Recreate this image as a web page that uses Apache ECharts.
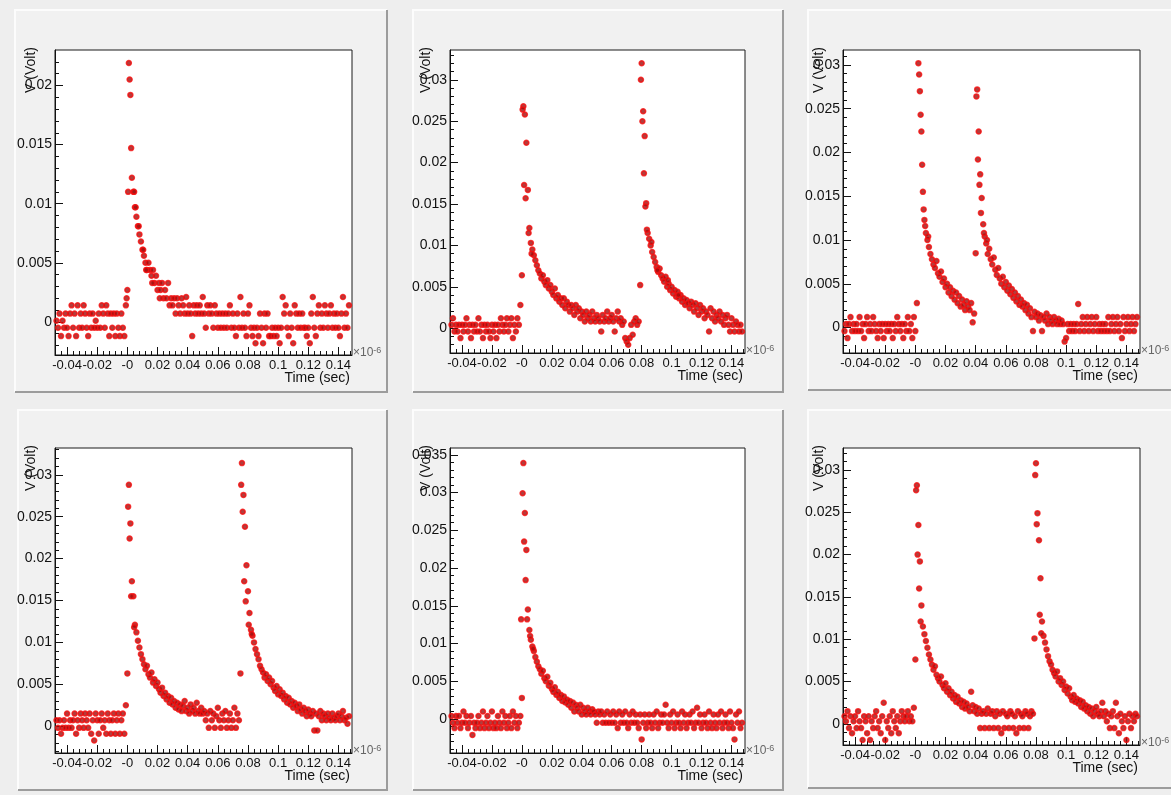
<!DOCTYPE html>
<html>
<head>
<meta charset="utf-8">
<title>Pulse waveforms</title>
<script src="https://cdn.jsdelivr.net/npm/echarts@6.0.0/dist/echarts.min.js"></script>
<style>
  html, body { margin: 0; padding: 0; background: #eeeeee; }
  #chart { width: 1171px; height: 795px; }
</style>
</head>
<body>
<div id="chart"></div>
<script>
// sample times in units of 10^-6 s, shared by the six traces (1 ns apart)
var timeUs = [
  -0.047,-0.046,-0.045,-0.044,-0.043,-0.042,-0.041,-0.040,-0.039,-0.038,
  -0.037,-0.036,-0.035,-0.034,-0.033,-0.032,-0.031,-0.030,-0.029,-0.028,
  -0.027,-0.026,-0.025,-0.024,-0.023,-0.022,-0.021,-0.020,-0.019,-0.018,
  -0.017,-0.016,-0.015,-0.014,-0.013,-0.012,-0.011,-0.010,-0.009,-0.008,
  -0.007,-0.006,-0.005,-0.004,-0.003,-0.002,-0.001,0.000,0.001,0.002,
  0.003,0.004,0.005,0.006,0.007,0.008,0.009,0.010,0.011,0.012,
  0.013,0.014,0.015,0.016,0.017,0.018,0.019,0.020,0.021,0.022,
  0.023,0.024,0.025,0.026,0.027,0.028,0.029,0.030,0.031,0.032,
  0.033,0.034,0.035,0.036,0.037,0.038,0.039,0.040,0.041,0.042,
  0.043,0.044,0.045,0.046,0.047,0.048,0.049,0.050,0.051,0.052,
  0.053,0.054,0.055,0.056,0.057,0.058,0.059,0.060,0.061,0.062,
  0.063,0.064,0.065,0.066,0.067,0.068,0.069,0.070,0.071,0.072,
  0.073,0.074,0.075,0.076,0.077,0.078,0.079,0.080,0.081,0.082,
  0.083,0.084,0.085,0.086,0.087,0.088,0.089,0.090,0.091,0.092,
  0.093,0.094,0.095,0.096,0.097,0.098,0.099,0.100,0.101,0.102,
  0.103,0.104,0.105,0.106,0.107,0.108,0.109,0.110,0.111,0.112,
  0.113,0.114,0.115,0.116,0.117,0.118,0.119,0.120,0.121,0.122,
  0.123,0.124,0.125,0.126,0.127,0.128,0.129,0.130,0.131,0.132,
  0.133,0.134,0.135,0.136,0.137,0.138,0.139,0.140,0.141,0.142,
  0.143,0.144,0.145,0.146,0.147
];

// voltages (V), one per sample time
var voltP1 = [
  0.0001,-0.0005,0.0007,-0.0012,0.0001,-0.0005,0.0007,-0.0005,-0.0012,0.0007,
  0.0014,-0.0005,0.0007,-0.0012,0.0014,-0.0005,0.0007,-0.0005,0.0014,0.0007,
  -0.0005,-0.0012,0.0007,-0.0005,0.0007,-0.0005,0.0001,-0.0005,0.0007,-0.0005,
  0.0014,0.0007,-0.0005,0.0014,0.0007,-0.0012,0.0007,-0.0005,0.0007,-0.0012,
  0.0007,-0.0005,-0.0012,0.0007,-0.0005,-0.0012,0.0014,0.0027,0.0219,0.0192,
  0.0122,0.0110,0.0097,0.0089,0.0081,0.0074,0.0068,0.0061,0.0056,0.0050,
  0.0044,0.0050,0.0044,0.0039,0.0044,0.0033,0.0039,0.0027,0.0033,0.0027,
  0.0033,0.0020,0.0027,0.0020,0.0033,0.0014,0.0020,0.0014,0.0020,0.0007,
  0.0020,0.0014,0.0007,0.0020,0.0014,0.0007,0.0021,0.0007,0.0014,0.0007,
  -0.0012,0.0014,0.0007,0.0014,0.0007,0.0014,0.0007,0.0021,0.0007,-0.0005,
  0.0014,0.0007,0.0014,0.0007,-0.0005,0.0014,0.0007,-0.0005,0.0007,-0.0005,
  0.0007,-0.0005,0.0007,-0.0005,0.0007,0.0014,-0.0005,0.0007,-0.0005,-0.0012,
  0.0007,-0.0005,0.0021,-0.0005,0.0007,-0.0005,-0.0012,0.0007,0.0014,-0.0005,
  -0.0012,-0.0005,-0.0018,-0.0005,-0.0012,0.0007,-0.0005,-0.0018,0.0007,-0.0005,
  0.0007,-0.0012,-0.0012,-0.0005,-0.0012,-0.0005,-0.0012,-0.0005,-0.0018,-0.0005,
  0.0021,0.0007,0.0014,-0.0005,-0.0012,0.0007,-0.0005,-0.0018,0.0014,0.0007,
  -0.0005,0.0007,-0.0005,0.0007,-0.0005,-0.0005,-0.0012,-0.0005,-0.0018,0.0007,
  0.0021,-0.0005,-0.0012,0.0007,0.0014,-0.0005,0.0007,-0.0005,0.0014,0.0007,
  -0.0005,0.0007,0.0014,-0.0005,0.0007,-0.0005,0.0007,-0.0005,-0.0012,0.0007,
  0.0021,-0.0005,0.0007,-0.0005,0.0014
];
var voltP2 = [
  0.0004,0.0012,-0.0004,0.0004,-0.0004,0.0004,-0.0012,0.0004,-0.0004,0.0004,
  0.0012,-0.0004,0.0004,-0.0012,0.0004,-0.0004,0.0004,-0.0004,0.0012,-0.0004,
  0.0004,-0.0012,0.0004,-0.0004,0.0004,-0.0004,-0.0012,0.0004,-0.0004,0.0004,
  -0.0012,0.0004,-0.0004,0.0012,0.0004,-0.0004,0.0004,0.0012,-0.0004,0.0004,
  0.0012,-0.0012,0.0004,-0.0004,0.0012,0.0004,0.0028,0.0064,0.0268,0.0258,
  0.0224,0.0167,0.0121,0.0103,0.0095,0.0088,0.0082,0.0076,0.0070,0.0066,
  0.0060,0.0064,0.0056,0.0052,0.0058,0.0048,0.0052,0.0044,0.0040,0.0048,
  0.0036,0.0040,0.0032,0.0036,0.0028,0.0036,0.0024,0.0032,0.0028,0.0020,
  0.0028,0.0024,0.0016,0.0028,0.0020,0.0024,0.0012,0.0020,0.0016,0.0008,
  0.0020,0.0012,0.0016,0.0008,0.0020,0.0012,0.0008,0.0016,0.0012,0.0008,
  -0.0004,0.0016,0.0008,0.0012,0.0020,0.0008,0.0012,0.0016,0.0008,-0.0004,
  0.0012,0.0020,0.0008,0.0012,0.0004,0.0008,-0.0012,-0.0016,-0.0020,-0.0012,
  0.0004,-0.0008,0.0008,0.0012,0.0004,0.0008,0.0052,0.0320,0.0262,0.0232,
  0.0151,0.0115,0.0108,0.0100,0.0092,0.0086,0.0080,0.0074,0.0068,0.0072,
  0.0064,0.0060,0.0056,0.0062,0.0050,0.0054,0.0046,0.0050,0.0042,0.0046,
  0.0038,0.0044,0.0036,0.0040,0.0032,0.0036,0.0028,0.0034,0.0030,0.0024,
  0.0032,0.0028,0.0020,0.0030,0.0024,0.0016,0.0028,0.0020,0.0024,0.0012,
  0.0020,0.0016,-0.0004,0.0024,0.0012,0.0020,0.0008,0.0016,0.0012,0.0020,
  0.0008,0.0016,0.0004,0.0012,0.0016,0.0004,-0.0004,0.0012,0.0004,-0.0004,
  0.0008,0.0004,-0.0004,0.0004,-0.0004
];
var voltP3 = [
  -0.0004,0.0004,-0.0012,0.0004,0.0012,-0.0004,0.0004,-0.0004,0.0004,-0.0004,
  0.0012,-0.0004,0.0004,-0.0012,0.0004,0.0012,-0.0004,0.0004,-0.0004,0.0012,
  0.0004,-0.0004,-0.0012,0.0004,-0.0004,0.0004,-0.0012,0.0004,-0.0004,0.0004,
  -0.0004,0.0004,-0.0012,0.0004,-0.0004,0.0012,0.0004,-0.0004,0.0004,-0.0012,
  0.0004,-0.0004,0.0012,-0.0004,0.0004,-0.0012,0.0012,-0.0004,0.0028,0.0302,
  0.0270,0.0224,0.0155,0.0123,0.0108,0.0100,0.0092,0.0084,0.0078,0.0072,
  0.0068,0.0076,0.0062,0.0058,0.0064,0.0052,0.0056,0.0046,0.0050,0.0040,
  0.0046,0.0036,0.0042,0.0032,0.0040,0.0028,0.0036,0.0024,0.0032,0.0026,
  0.0020,0.0030,0.0024,0.0020,0.0028,0.0006,0.0016,0.0085,0.0272,0.0224,
  0.0175,0.0148,0.0118,0.0104,0.0096,0.0084,0.0090,0.0078,0.0072,0.0080,
  0.0066,0.0060,0.0068,0.0056,0.0050,0.0058,0.0046,0.0052,0.0042,0.0048,
  0.0038,0.0044,0.0034,0.0040,0.0030,0.0036,0.0026,0.0032,0.0024,0.0028,
  0.0020,0.0026,0.0016,0.0022,0.0012,-0.0004,0.0018,0.0012,0.0016,0.0008,
  0.0014,-0.0004,0.0012,0.0008,0.0016,0.0004,0.0012,0.0008,0.0004,0.0012,
  0.0008,0.0004,0.0010,0.0004,0.0008,0.0004,-0.0016,-0.0012,0.0004,-0.0004,
  0.0004,-0.0004,0.0004,-0.0004,0.0004,0.0027,-0.0004,0.0004,0.0012,-0.0004,
  0.0004,0.0012,-0.0004,0.0004,0.0012,-0.0004,0.0004,0.0012,-0.0004,0.0004,
  -0.0004,0.0004,-0.0004,0.0004,-0.0004,0.0012,-0.0004,0.0004,0.0012,-0.0004,
  0.0004,0.0012,-0.0004,0.0004,-0.0012,0.0012,-0.0004,0.0004,0.0012,-0.0004,
  0.0004,0.0012,-0.0004,0.0004,0.0012
];
var voltP4 = [
  0.0007,-0.0002,0.0007,-0.0009,-0.0002,0.0007,-0.0002,0.0015,-0.0002,0.0007,
  -0.0002,0.0007,0.0015,-0.0009,0.0007,-0.0002,0.0015,0.0007,-0.0002,0.0015,
  0.0007,-0.0002,0.0015,-0.0009,0.0007,-0.0017,0.0015,0.0007,-0.0009,0.0007,
  0.0015,-0.0002,0.0007,-0.0009,0.0015,0.0007,-0.0009,0.0007,0.0015,-0.0009,
  0.0007,0.0015,-0.0009,0.0007,0.0015,-0.0009,0.0025,0.0063,0.0288,0.0242,
  0.0173,0.0155,0.0121,0.0112,0.0102,0.0094,0.0086,0.0080,0.0074,0.0068,
  0.0072,0.0062,0.0058,0.0064,0.0052,0.0056,0.0048,0.0052,0.0044,0.0040,
  0.0046,0.0036,0.0040,0.0032,0.0036,0.0028,0.0034,0.0026,0.0030,0.0022,
  0.0028,0.0020,0.0026,0.0018,0.0024,0.0030,0.0018,0.0022,0.0015,0.0026,
  0.0018,0.0022,0.0015,0.0028,0.0018,0.0015,0.0022,0.0015,0.0018,0.0007,
  0.0015,-0.0002,0.0018,0.0007,0.0015,-0.0002,0.0012,0.0022,0.0007,-0.0002,
  0.0015,0.0007,0.0018,-0.0002,0.0007,0.0015,-0.0002,0.0007,0.0022,-0.0002,
  0.0015,0.0007,0.0063,0.0314,0.0276,0.0238,0.0192,0.0161,0.0135,0.0115,
  0.0108,0.0100,0.0092,0.0086,0.0080,0.0072,0.0068,0.0064,0.0058,0.0062,
  0.0054,0.0058,0.0050,0.0054,0.0046,0.0042,0.0048,0.0038,0.0044,0.0036,
  0.0040,0.0032,0.0036,0.0028,0.0034,0.0026,0.0030,0.0022,0.0028,0.0024,
  0.0018,0.0026,0.0020,0.0015,0.0022,0.0018,0.0012,0.0020,0.0015,0.0012,
  0.0018,-0.0005,0.0015,-0.0005,0.0012,0.0018,0.0007,0.0015,0.0012,0.0007,
  0.0015,0.0010,0.0007,0.0015,0.0010,0.0007,0.0012,0.0015,0.0007,0.0012,
  0.0018,0.0007,0.0010,0.0003,0.0012
];
var voltP5 = [
  0.0004,-0.0005,-0.0012,0.0004,-0.0005,0.0004,-0.0012,-0.0005,0.0010,-0.0005,
  0.0004,-0.0012,-0.0005,0.0004,-0.0021,-0.0005,-0.0012,-0.0005,0.0004,-0.0012,
  -0.0005,0.0010,-0.0012,-0.0005,0.0004,-0.0012,-0.0005,0.0010,-0.0012,-0.0005,
  -0.0012,0.0004,-0.0005,-0.0012,0.0010,-0.0005,0.0004,-0.0012,-0.0005,0.0004,
  -0.0012,0.0010,-0.0005,0.0004,-0.0012,-0.0005,0.0004,0.0028,0.0339,0.0273,
  0.0224,0.0145,0.0118,0.0105,0.0096,0.0090,0.0082,0.0076,0.0070,0.0066,
  0.0060,0.0064,0.0054,0.0050,0.0056,0.0044,0.0048,0.0040,0.0036,0.0042,
  0.0032,0.0036,0.0028,0.0032,0.0024,0.0030,0.0022,0.0026,0.0019,0.0024,
  0.0015,0.0022,0.0010,0.0019,0.0015,0.0010,0.0019,0.0006,0.0015,0.0010,
  0.0006,0.0015,0.0010,0.0006,0.0013,0.0010,0.0006,-0.0005,0.0010,0.0006,
  0.0010,-0.0005,0.0006,-0.0005,0.0010,-0.0005,0.0006,-0.0005,0.0010,-0.0005,
  0.0006,-0.0012,0.0010,-0.0005,0.0006,-0.0005,0.0010,-0.0005,-0.0012,0.0006,
  -0.0005,0.0010,-0.0005,0.0006,-0.0005,-0.0012,0.0006,-0.0027,-0.0005,0.0006,
  -0.0012,-0.0005,0.0006,-0.0005,-0.0012,0.0006,-0.0005,0.0010,-0.0012,-0.0005,
  0.0006,-0.0005,0.0006,0.0019,-0.0005,-0.0012,0.0006,-0.0005,0.0010,-0.0012,
  -0.0005,0.0006,-0.0005,-0.0012,0.0010,-0.0005,0.0006,-0.0012,-0.0005,0.0006,
  -0.0005,0.0010,-0.0012,-0.0005,0.0015,-0.0005,0.0006,-0.0012,-0.0005,0.0006,
  -0.0005,-0.0012,0.0010,-0.0005,-0.0012,0.0006,-0.0005,-0.0012,0.0006,-0.0005,
  0.0010,-0.0012,-0.0005,0.0006,-0.0005,-0.0012,0.0010,-0.0005,-0.0012,-0.0027,
  0.0006,-0.0005,0.0010,-0.0012,-0.0005
];
var voltP6 = [
  0.0009,0.0003,0.0015,-0.0005,0.0009,-0.0011,0.0003,0.0009,-0.0005,0.0015,
  0.0003,-0.0005,-0.0019,0.0009,0.0003,-0.0011,0.0009,-0.0019,0.0003,-0.0005,
  0.0009,0.0015,-0.0005,0.0003,-0.0011,0.0009,0.0025,-0.0019,0.0003,-0.0005,
  0.0009,-0.0011,0.0015,0.0003,-0.0005,0.0009,-0.0011,0.0003,0.0015,0.0009,
  0.0003,0.0009,0.0015,0.0003,0.0009,0.0003,0.0019,0.0076,0.0282,0.0235,
  0.0192,0.0140,0.0115,0.0106,0.0098,0.0090,0.0082,0.0076,0.0070,0.0064,
  0.0068,0.0058,0.0054,0.0050,0.0056,0.0046,0.0042,0.0048,0.0038,0.0042,
  0.0034,0.0038,0.0030,0.0034,0.0026,0.0032,0.0024,0.0028,0.0020,0.0026,
  0.0018,0.0024,0.0020,0.0015,0.0038,0.0022,0.0015,0.0020,0.0012,0.0018,
  -0.0005,0.0012,0.0015,-0.0005,0.0012,0.0018,-0.0005,0.0012,0.0015,-0.0005,
  0.0009,0.0015,-0.0005,0.0012,-0.0011,0.0015,-0.0005,0.0012,0.0009,-0.0005,
  0.0015,0.0012,-0.0005,0.0009,-0.0011,0.0015,-0.0005,0.0012,0.0009,-0.0005,
  0.0015,0.0012,-0.0005,0.0009,0.0015,0.0012,0.0101,0.0308,0.0249,0.0217,
  0.0172,0.0121,0.0104,0.0096,0.0088,0.0080,0.0074,0.0070,0.0064,0.0060,
  0.0056,0.0062,0.0050,0.0054,0.0046,0.0050,0.0040,0.0044,0.0036,0.0042,
  0.0032,0.0028,0.0034,0.0026,0.0030,0.0024,0.0028,0.0020,0.0026,0.0018,
  0.0022,0.0015,0.0020,0.0012,0.0018,0.0009,0.0015,0.0020,0.0012,0.0009,
  0.0015,0.0025,0.0009,0.0015,0.0003,0.0012,-0.0005,0.0009,0.0015,-0.0005,
  0.0025,0.0009,-0.0011,0.0012,0.0003,-0.0005,0.0009,-0.0019,0.0003,0.0012,
  -0.0005,0.0009,0.0003,0.0012,0.0009
];

// points read between the 1 ns samples on the steep edges: [time, volt]
var extraP1 = [[-0.0005,0.0020],[0.0015,0.0205],[0.0025,0.0147],[0.0005,0.0110],[0.0045,0.0110],
  [0.0055,0.0097],[0.0075,0.0081],[0.0105,0.0061],[0.0125,0.0044],[0.0165,0.0033],[0.0215,0.0020]];
var extraP2 = [[0.0005,0.0264],[0.0015,0.0173],[0.0025,0.0157],[0.0045,0.0115],[0.0065,0.0090],
  [0.0795,0.0300],[0.0805,0.0250],[0.0815,0.0187],[0.0825,0.0147],[0.0835,0.0119],
  [0.0865,0.0104],[0.0905,0.0070],[0.0975,0.0058],[0.1045,0.0040]];
var extraP3 = [[0.0025,0.0289],[0.0035,0.0243],[0.0045,0.0186],[0.0055,0.0135],[0.0065,0.0116],
  [0.0085,0.0104],[0.0405,0.0264],[0.0415,0.0192],[0.0425,0.0163],[0.0435,0.0131],
  [0.0455,0.0108],[0.0475,0.0100]];
var extraP4 = [[0.0005,0.0262],[0.0015,0.0224],[0.0025,0.0155],[0.0045,0.0118],[0.0755,0.0288],
  [0.0765,0.0256],[0.0775,0.0173],[0.0785,0.0149],[0.0805,0.0121],[0.0825,0.0110]];
var extraP5 = [[0.0005,0.0299],[0.0015,0.0235],[0.0025,0.0184],[-0.0005,0.0132],[0.0035,0.0132],
  [0.0055,0.0110],[0.0075,0.0093]];
var extraP6 = [[0.0005,0.0276],[0.0015,0.0200],[0.0025,0.0160],[0.0035,0.0121],[0.0795,0.0294],
  [0.0805,0.0236],[0.0825,0.0129],[0.0835,0.0107]];

// axis ranges
var timeRange = [-0.048, 0.149];
var voltRangeP1 = [-0.0028, 0.0230];
var voltRangeP2 = [-0.0030, 0.0336];
var voltRangeP3 = [-0.0029, 0.0317];
var voltRangeP4 = [-0.0032, 0.0332];
var voltRangeP5 = [-0.0045, 0.0359];
var voltRangeP6 = [-0.0025, 0.0326];

// tick labels
var timeTicks = [-0.04, -0.02, 0, 0.02, 0.04, 0.06, 0.08, 0.1, 0.12, 0.14];
var timeTickText = ['-0.04', '-0.02', '-0', '0.02', '0.04', '0.06', '0.08', '0.1', '0.12', '0.14'];
var voltTicks = [0, 0.005, 0.01, 0.015, 0.02, 0.025, 0.03, 0.035];
var voltTickText = ['0', '0.005', '0.01', '0.015', '0.02', '0.025', '0.03', '0.035'];

var traces = [
  { volts: voltP1, extra: extraP1, range: voltRangeP1 },
  { volts: voltP2, extra: extraP2, range: voltRangeP2 },
  { volts: voltP3, extra: extraP3, range: voltRangeP3 },
  { volts: voltP4, extra: extraP4, range: voltRangeP4 },
  { volts: voltP5, extra: extraP5, range: voltRangeP5 },
  { volts: voltP6, extra: extraP6, range: voltRangeP6 }
];

// layout of the 2x3 canvas divisions
var frames = [
  { left: 55, top: 50, width: 297, height: 305 },
  { left: 450, top: 50, width: 295, height: 303 },
  { left: 843, top: 50, width: 297, height: 303 },
  { left: 55, top: 448, width: 297, height: 305 },
  { left: 450, top: 448, width: 295, height: 305 },
  { left: 843, top: 448, width: 297, height: 297 }
];
var pads = [
  { x: 15, y: 10, w: 372, h: 382 },
  { x: 413, y: 10, w: 370, h: 382 },
  { x: 808, y: 10, w: 372, h: 380 },
  { x: 18, y: 410, w: 369, h: 380 },
  { x: 413, y: 410, w: 370, h: 380 },
  { x: 808, y: 410, w: 372, h: 378 }
];

var FONT = '"Liberation Sans", Arial, Helvetica, sans-serif';
var INK = '#111';

function labelFor(values, texts, v) {
  var best = 0;
  for (var i = 1; i < values.length; i++) {
    if (Math.abs(values[i] - v) < Math.abs(values[best] - v)) best = i;
  }
  return texts[best];
}

function inRange(values, range) {
  return values.filter(function (v) { return v >= range[0] - 1e-9 && v <= range[1] + 1e-9; });
}

// secondary divisions (ROOT 510 style), skipping the primary ones
function minorTicks(range, step, majorStep) {
  var out = [];
  var k0 = Math.ceil(range[0] / step + 1e-6), k1 = Math.floor(range[1] / step - 1e-6);
  for (var k = k0; k <= k1; k++) {
    var v = +(k * step).toFixed(6);
    var r = v / majorStep;
    if (Math.abs(r - Math.round(r)) < 1e-6) continue;
    out.push(v);
  }
  return out;
}

var grids = [], xAxes = [], yAxes = [], series = [], graphics = [];
var timeMinor = minorTicks(timeRange, 0.004, 0.02);

pads.forEach(function (p) {
  graphics.push({ type: 'rect', z: -10, silent: true, shape: { x: p.x, y: p.y, width: p.w, height: p.h },
    style: { fill: '#f1f1f1' } });
  graphics.push({ type: 'polyline', z: -9, silent: true,
    shape: { points: [[p.x, p.y + p.h], [p.x, p.y], [p.x + p.w, p.y]] },
    style: { stroke: '#fcfcfc', lineWidth: 2, fill: null } });
  graphics.push({ type: 'polyline', z: -9, silent: true,
    shape: { points: [[p.x + p.w, p.y], [p.x + p.w, p.y + p.h], [p.x, p.y + p.h]] },
    style: { stroke: '#9c9c9c', lineWidth: 2, fill: null } });
});

traces.forEach(function (tr, i) {
  var f = frames[i];
  grids.push({
    left: f.left, top: f.top, width: f.width, height: f.height,
    show: true, backgroundColor: '#ffffff', borderColor: '#1a1a1a', borderWidth: 1
  });

  var yMajor = inRange(voltTicks, tr.range);
  var yMinor = minorTicks(tr.range, 0.001, 0.005);

  // primary time axis
  xAxes.push({
    type: 'value', gridIndex: i, position: 'bottom', min: timeRange[0], max: timeRange[1],
    axisLine: { show: true, onZero: false, lineStyle: { color: INK, width: 1 } },
    splitLine: { show: false },
    axisTick: { show: true, inside: true, length: 8, customValues: timeTicks, lineStyle: { color: INK, width: 1 } },
    axisLabel: {
      show: true, customValues: timeTicks, margin: 4, fontSize: 13, color: INK, fontFamily: FONT,
      formatter: function (v) { return labelFor(timeTicks, timeTickText, v); }
    },
    name: 'Time (sec)', nameLocation: 'end', nameGap: -2, nameMoveOverlap: false,
    nameTextStyle: { align: 'right', verticalAlign: 'top', padding: [16, 0, 0, 0],
      fontSize: 14, color: INK, fontFamily: FONT }
  });
  // secondary time divisions and the exponent
  xAxes.push({
    type: 'value', gridIndex: i, position: 'bottom', min: timeRange[0], max: timeRange[1],
    axisLine: { show: false, onZero: false },
    splitLine: { show: false },
    axisTick: { show: true, inside: true, length: 4, customValues: timeMinor, lineStyle: { color: INK, width: 1 } },
    axisLabel: { show: false },
    name: '\u00d710{e|-6}', nameLocation: 'end', nameGap: 1, nameMoveOverlap: false,
    nameTextStyle: { align: 'left', verticalAlign: 'middle', padding: [0, 0, 5, 0],
      fontSize: 12, color: '#666', fontFamily: FONT,
      rich: { e: { fontSize: 9, color: '#666', verticalAlign: 'top' } } }
  });

  yAxes.push({
    type: 'value', gridIndex: i, position: 'left', min: tr.range[0], max: tr.range[1],
    axisLine: { show: true, onZero: false, lineStyle: { color: INK, width: 1 } },
    splitLine: { show: false },
    axisTick: { show: true, inside: true, length: 8, customValues: yMajor, lineStyle: { color: INK, width: 1 } },
    axisLabel: {
      show: true, customValues: yMajor, margin: 3, fontSize: 14, color: INK, fontFamily: FONT,
      formatter: function (v) { return labelFor(voltTicks, voltTickText, v); }
    },
    name: 'V (Volt)', nameLocation: 'end', nameGap: 3, nameRotate: 90, nameMoveOverlap: false,
    nameTextStyle: { align: 'right', verticalAlign: 'bottom', padding: [0, 0, 17, 0],
      fontSize: 14, color: INK, fontFamily: FONT }
  });
  yAxes.push({
    type: 'value', gridIndex: i, position: 'left', min: tr.range[0], max: tr.range[1],
    axisLine: { show: false, onZero: false },
    splitLine: { show: false },
    axisTick: { show: true, inside: true, length: 4, customValues: yMinor, lineStyle: { color: INK, width: 1 } },
    axisLabel: { show: false }
  });

  var pts = timeUs.map(function (t, k) { return [t, tr.volts[k]]; }).concat(tr.extra);
  series.push({
    type: 'scatter', xAxisIndex: 2 * i, yAxisIndex: 2 * i, data: pts,
    symbol: 'circle', symbolSize: 5, silent: true,
    itemStyle: { color: '#a00d0d', borderColor: '#f50f0f', borderWidth: 1.5 }
  });
});

var chart = echarts.init(document.getElementById('chart'), null, { renderer: 'canvas' });
chart.setOption({
  backgroundColor: '#eeeeee',
  animation: false,
  graphic: graphics,
  grid: grids,
  xAxis: xAxes,
  yAxis: yAxes,
  series: series
});
</script>
</body>
</html>
